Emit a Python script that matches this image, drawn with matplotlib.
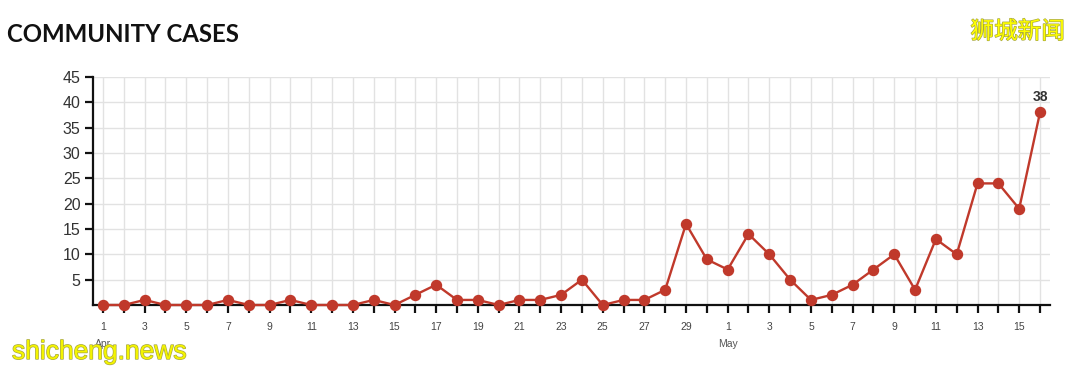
import numpy as np
import matplotlib.pyplot as plt
import matplotlib.patheffects as pe

# daily community cases, 1 Apr - 16 May
dias = list(range(1, 31)) + list(range(1, 17))
casos = [0, 0, 1, 0, 0, 0, 1, 0, 0, 1, 0, 0, 0, 1, 0, 2, 4, 1, 1, 0,
         1, 1, 2, 5, 0, 1, 1, 3, 16, 9,
         7, 14, 10, 5, 1, 2, 4, 7, 10, 3, 13, 10, 24, 24, 19, 38]
meses = {0: 'Apr', 30: 'May'}
yticks = [5, 10, 15, 20, 25, 30, 35, 40, 45]

rojo = '#c0392b'
x = np.arange(len(casos))

plt.rcParams['font.family'] = ['Liberation Sans', 'DejaVu Sans']

fig = plt.figure(figsize=(10.8, 3.71), dpi=100)
ax = fig.add_axes([93/1080, 66/371, (1050-93)/1080, (305-77)/371])

ax.plot(x, casos, color=rojo, lw=1.7, marker='o', ms=7.2, zorder=3, clip_on=False)

ax.set_xlim(-0.48, len(casos) - 1 + 0.48)
ax.set_ylim(0, 45)
ax.set_xticks(x)
ax.set_xticklabels([str(d) if i % 2 == 0 else '' for i, d in enumerate(dias)],
                   fontsize=7.5, color='#444')
ax.set_yticks(yticks)
ax.set_yticklabels([str(v) for v in yticks], fontsize=11.5, color='#333')
ax.grid(True, color='#e2e2e2', lw=1.0, zorder=0)
ax.set_axisbelow(True)

for s in ['top', 'right']:
    ax.spines[s].set_visible(False)
for s in ['left', 'bottom']:
    ax.spines[s].set_linewidth(1.6)
    ax.spines[s].set_color('#111')
ax.tick_params(axis='both', direction='out', length=6, width=1.6, color='#111')
ax.tick_params(axis='x', pad=6)
ax.tick_params(axis='y', pad=3)

for i, m in meses.items():
    ax.annotate(m, xy=(i, 0), xytext=(0, -28), textcoords='offset points',
                ha='center', va='center', fontsize=7.5, color='#555')

ax.annotate(str(casos[-1]), xy=(x[-1], casos[-1]), xytext=(0, 6),
            textcoords='offset points', ha='center', va='bottom',
            fontsize=10, fontweight='bold', color='#333')

fig.text(7/1080, 1 - 34/371, 'COMMUNITY CASES', family='Lato', fontweight='bold',
         fontsize=17.3, color='#111', va='center', ha='left')

# watermarks
borde = [pe.withStroke(linewidth=1.0, foreground='#a8a840')]
fig.text(1065/1080, 1 - 32/371, '狮城新闻', family=['Noto Sans CJK SC', 'DejaVu Sans'],
         fontsize=17, color='#ffff00', ha='right', va='center', path_effects=borde)
fig.text(12/1080, 1 - 352/371, 'shicheng.news', family=['Liberation Sans', 'DejaVu Sans'],
         fontsize=19, color='#f4f400', ha='left', va='center', path_effects=borde)

fig.savefig('out.png', dpi=100)
